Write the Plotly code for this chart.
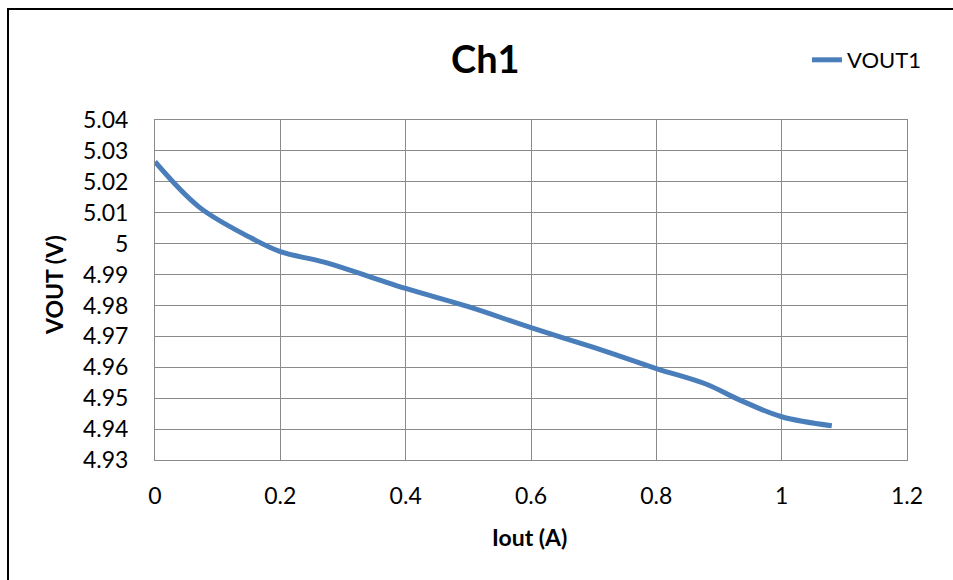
import plotly.graph_objects as go

# Data
iout = [0, 0.07, 0.15, 0.2, 0.27, 0.4, 0.5, 0.6, 0.7, 0.8, 0.88, 0.93, 1.0, 1.08]
vout1 = [5.0265, 5.0119, 5.0022, 4.9974, 4.9940, 4.9855, 4.9796, 4.9728, 4.9664, 4.9596, 4.9545, 4.9497, 4.9440, 4.9411]

x_ticks = [0, 0.2, 0.4, 0.6, 0.8, 1.0, 1.2]
x_ticktext = ["0", "0.2", "0.4", "0.6", "0.8", "1", "1.2"]
y_ticks = [4.93, 4.94, 4.95, 4.96, 4.97, 4.98, 4.99, 5.00, 5.01, 5.02, 5.03, 5.04]
y_ticktext = ["4.93", "4.94", "4.95", "4.96", "4.97", "4.98", "4.99", "5", "5.01", "5.02", "5.03", "5.04"]

FONT = "Lato"
GRID = "#8a8a8a"

W, H = 953, 580
L, R, T, B = 155, 46, 120, 120
PW, PH = W - L - R, H - T - B


def px_x(p):
    return (p - L) / PW


def px_y(p):
    return (H - B - p) / PH


fig = go.Figure()
fig.add_trace(go.Scatter(
    x=iout, y=vout1, mode="lines", name="VOUT1",
    line=dict(color="#4A7EBB", width=5, shape="spline", smoothing=1.0),
))

fig.update_layout(
    width=W, height=H,
    margin=dict(l=L, r=R, t=T, b=B),
    paper_bgcolor="white", plot_bgcolor="white",
    font=dict(family=FONT, size=23, color="#000000"),
    showlegend=True,
    legend=dict(
        x=px_x(807), y=px_y(60), xanchor="left", yanchor="middle",
        font=dict(family=FONT, size=22, color="#000000"),
        bgcolor="rgba(0,0,0,0)",
    ),
    xaxis=dict(
        range=[0, 1.2], tickvals=x_ticks, ticktext=x_ticktext,
        showgrid=True, gridcolor=GRID, gridwidth=1,
        showline=True, linecolor=GRID, linewidth=1, mirror=True,
        zeroline=False, ticks="", ticklabelstandoff=15,
        tickfont=dict(family=FONT, size=23, color="#000000"),
    ),
    yaxis=dict(
        range=[4.93, 5.04], tickvals=y_ticks, ticktext=y_ticktext,
        showgrid=True, gridcolor=GRID, gridwidth=1,
        showline=True, linecolor=GRID, linewidth=1, mirror=True,
        zeroline=False, ticks="", ticklabelstandoff=21,
        tickfont=dict(family=FONT, size=23, color="#000000"),
    ),
    annotations=[
        dict(text="<b>Ch1</b>", x=px_x(485), y=px_y(58), xref="paper", yref="paper",
             xanchor="center", yanchor="middle", showarrow=False,
             font=dict(family=FONT, size=38, color="#000000")),
        dict(text="<b>Iout (A)</b>", x=px_x(529), y=px_y(537), xref="paper", yref="paper",
             xanchor="center", yanchor="middle", showarrow=False,
             font=dict(family=FONT, size=23, color="#000000")),
        dict(text="<b>VOUT (V)</b>", x=px_x(54), y=px_y(285), xref="paper", yref="paper",
             xanchor="center", yanchor="middle", showarrow=False, textangle=-90,
             font=dict(family=FONT, size=23, color="#000000")),
    ],
    shapes=[
        dict(type="rect", xref="paper", yref="paper",
             x0=px_x(8), x1=px_x(970), y0=px_y(600), y1=px_y(9),
             line=dict(color="#000000", width=2), fillcolor="rgba(0,0,0,0)", layer="below"),
    ],
)

fig.write_html(
    "out.html",
    config={"displayModeBar": False},
    post_script="document.body.style.margin='0';document.body.style.overflow='hidden';",
)
